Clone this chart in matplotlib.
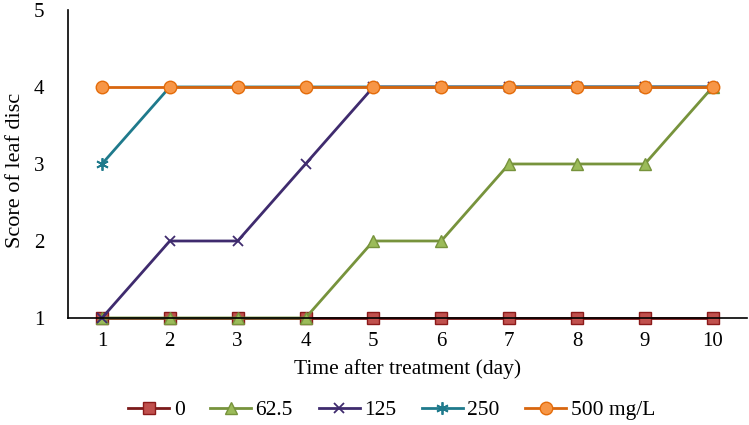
import matplotlib
matplotlib.use("Agg")
import matplotlib.pyplot as plt

days = [1, 2, 3, 4, 5, 6, 7, 8, 9, 10]
s0 = [1, 1, 1, 1, 1, 1, 1, 1, 1, 1]
s62 = [1, 1, 1, 1, 2, 2, 3, 3, 3, 4]
s125 = [1, 2, 2, 3, 4, 4, 4, 4, 4, 4]
s250 = [3, 4, 4, 4, 4, 4, 4, 4, 4, 4]
s500 = [4, 4, 4, 4, 4, 4, 4, 4, 4, 4]
labels = ["0", "62.5", "125", "250", "500 mg/L"]
yticks = [1, 2, 3, 4, 5]

plt.rcParams['font.family'] = ['Liberation Serif', 'DejaVu Serif']

fig = plt.figure(figsize=(7.49, 4.25), dpi=100)
ax = fig.add_axes([0.0908, 0.2518, 0.906, 0.7247])

lw = 2.0
kw = dict(clip_on=False, lw=lw)
ax.plot(days, s0, color="#7B1A1A", marker="s", ms=8.5, mfc="#C0504D", mec="#8B1A1A", mew=1.0, label=labels[0], **kw)
ax.plot(days, s62, color="#77933C", marker="^", ms=8.5, mfc="#9BBB59", mec="#77933C", mew=1.0, label=labels[1], **kw)
ax.plot(days, s125, color="#3F2B6E", marker="x", ms=7, mec="#3F2B6E", mew=1.3, label=labels[2], **kw)
ax.plot(days, s250, color="#1F7A8C", marker=(6, 2, 0), ms=9, mec="#1F7A8C", mew=1.3, label=labels[3], **kw)
ax.plot(days, s500, color="#D8660E", marker="o", ms=9, mfc="#F79646", mec="#E46C0A", mew=1.0, label=labels[4], **kw)

ax.set_xlim(0.5, 10.5)
ax.set_ylim(1, 5)
ax.set_xticks(days)
ax.set_yticks(yticks)
ax.tick_params(axis="both", length=0, labelsize=15)
ax.tick_params(axis="x", pad=10)
ax.tick_params(axis="y", pad=17)
for s in ["top", "right"]:
    ax.spines[s].set_visible(False)
ax.spines["left"].set_linewidth(1.2)
ax.spines["bottom"].set_linewidth(1.2)
ax.set_xlabel("Time after treatment (day)", fontsize=15.5, labelpad=6)
ax.set_ylabel("Score of leaf disc", fontsize=16)
ax.yaxis.set_label_coords(-0.064, 0.48)

fig.legend(loc="center", bbox_to_anchor=(0.523, 0.035), ncol=5, frameon=False,
           fontsize=15.5, handlelength=1.9, columnspacing=1.2, handletextpad=0.2)

fig.savefig("out.png", dpi=100)
